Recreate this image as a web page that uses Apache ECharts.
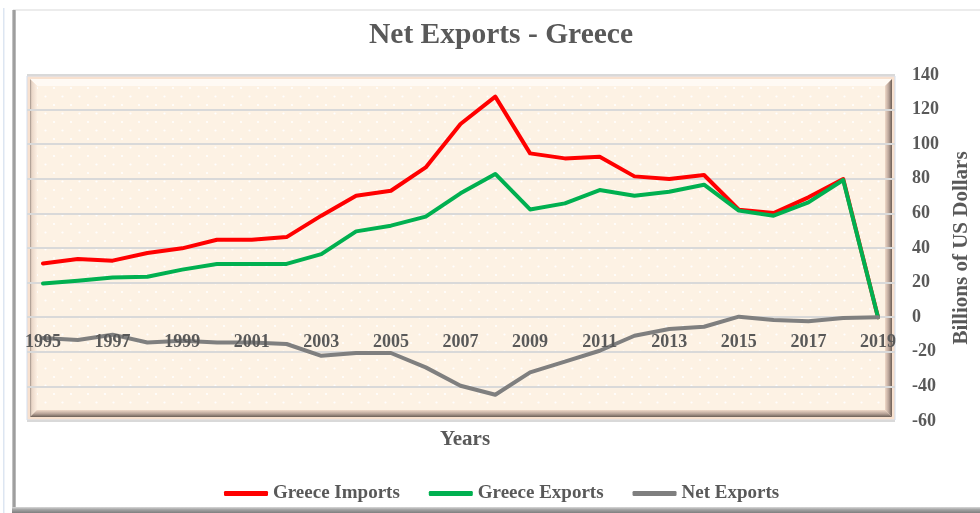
<!DOCTYPE html>
<html>
<head>
<meta charset="utf-8">
<script src="https://cdn.jsdelivr.net/npm/echarts@6/dist/echarts.min.js"></script>
<style>
  html, body { margin: 0; padding: 0; background: #ffffff; }
  #chart { width: 980px; height: 513px; }
</style>
</head>
<body>
<div id="chart"></div>
<script>
// Greece trade, billions of US dollars
const years = ['1995','1996','1997','1998','1999','2000','2001','2002','2003','2004','2005','2006',
               '2007','2008','2009','2010','2011','2012','2013','2014','2015','2016','2017','2018','2019'];
const greeceImports = [31.1, 33.6, 32.7, 37.1, 39.8, 44.8, 44.8, 46.3, 58.7, 70.2, 73.1, 86.6,
                       111.7, 127.5, 94.7, 91.8, 92.8, 81.4, 79.9, 82.2, 62.1, 60.2, 69.3, 79.9, 0];
const greeceExports = [19.5, 21.1, 23.0, 23.4, 27.5, 30.8, 30.8, 30.8, 36.5, 49.6, 52.9, 58.1,
                       71.6, 82.8, 62.3, 65.8, 73.5, 70.2, 72.5, 76.6, 61.6, 58.7, 66.4, 79.3, 0];
const netExports = [-12.0, -13.2, -10.1, -14.6, -13.6, -14.6, -14.6, -15.5, -22.3, -20.7, -20.7, -29.0,
                    -39.6, -44.8, -31.9, -25.7, -19.4, -10.7, -6.8, -5.5, 0.3, -1.6, -2.4, -0.5, 0];
const yMin = -60, yMax = 140, yStep = 20;

const FONT = '"Liberation Serif", "Times New Roman", serif';
const TEXT = '#595959';

const W = 980, H = 513;
const GRID_TOP = 75, GRID_BOTTOM = 92;
// the year labels sit just under the zero line
const zeroOffset = -((0 - yMin) / (yMax - yMin)) * (H - GRID_TOP - GRID_BOTTOM);

// small dotted texture for the plot face
function dotTile() {
  const c = document.createElement('canvas');
  c.width = 17; c.height = 17;
  const g = c.getContext('2d');
  g.fillStyle = 'rgba(255,255,255,0.95)';
  [[3, 3], [11.5, 11.5]].forEach(p => { g.beginPath(); g.arc(p[0], p[1], 1.1, 0, Math.PI * 2); g.fill(); });
  return c;
}

const chart = echarts.init(document.getElementById('chart'), null, { renderer: 'canvas' });

const grad = (x2, y2, stops) => ({
  type: 'linear', x: 0, y: 0, x2: x2, y2: y2,
  colorStops: stops.map(s => ({ offset: s[0], color: s[1] }))
});

chart.setOption({
  animation: false,
  backgroundColor: '#ffffff',
  title: [
    { text: 'Net Exports - Greece', left: 364, top: 15,
      textStyle: { fontFamily: FONT, fontSize: 29.5, fontWeight: 'bold', color: TEXT } },
    { text: 'Years', left: 460, top: 424, textAlign: 'center',
      textStyle: { fontFamily: FONT, fontSize: 21, fontWeight: 'bold', color: TEXT } }
  ],
  legend: {
    left: 219, top: 479, itemGap: 29, itemWidth: 44, itemHeight: 5, icon: 'roundRect',
    itemStyle: { borderWidth: 0 },
    textStyle: { fontFamily: FONT, fontSize: 19, fontWeight: 'bold', color: TEXT },
    data: ['Greece Imports', 'Greece Exports', 'Net Exports']
  },
  graphic: [
    // outer chart border
    { type: 'rect', z: -20, silent: true, shape: { x: 3, y: 8, width: 1.5, height: 505 }, style: { fill: '#dde6f2' } },
    { type: 'rect', z: -20, silent: true, shape: { x: 13, y: 9, width: 967, height: 2 }, style: { fill: '#ececec' } },
    { type: 'rect', z: -20, silent: true, shape: { x: 12, y: 10, width: 4, height: 500 },
      style: { fill: grad(1, 0, [[0, '#d4d4d4'], [0.5, '#8f8f8f'], [1, '#c8c8c8']]) } },
    { type: 'rect', z: -20, silent: true, shape: { x: 12, y: 507, width: 968, height: 6 },
      style: { fill: grad(0, 1, [[0, '#d9d9d9'], [0.4, '#a6a6a6'], [1, '#7f7f7f']]) } },
    // plot frame
    { type: 'rect', z: -20, silent: true, shape: { x: 27, y: 76, width: 868, height: 344 },
      style: { fill: '#f8e1cf', stroke: '#d3deee', lineWidth: 1 } },
    { type: 'polygon', z: -19, silent: true, shape: { points: [[30, 79], [892, 79], [885, 86], [37, 86]] },
      style: { fill: '#fffaf4' } },
    { type: 'polygon', z: -19, silent: true, shape: { points: [[30, 79], [37, 86], [37, 410], [30, 417]] },
      style: { fill: grad(1, 0, [[0, '#9d8f86'], [0.25, '#e9d6c7'], [1, '#fcefe2']]) } },
    { type: 'polygon', z: -19, silent: true, shape: { points: [[892, 79], [892, 417], [885, 410], [885, 86]] },
      style: { fill: grad(1, 0, [[0, '#f0d9c8'], [0.55, '#b6a196'], [1, '#6c5f57']]) } },
    { type: 'polygon', z: -19, silent: true, shape: { points: [[30, 417], [892, 417], [885, 410], [37, 410]] },
      style: { fill: grad(0, 1, [[0, '#f0d9c8'], [0.55, '#b6a196'], [1, '#6c5f57']]) } },
    { type: 'rect', z: -18, silent: true, shape: { x: 37, y: 86, width: 848, height: 324 },
      style: { fill: '#fdf2e4' } },
    { type: 'rect', z: -17, silent: true, shape: { x: 37, y: 86, width: 848, height: 324 },
      style: { fill: { image: dotTile(), repeat: 'repeat' } } }
  ],
  grid: [
    { left: 27, right: 85, top: GRID_TOP, bottom: GRID_BOTTOM },
    { left: 43, right: 102, top: GRID_TOP, bottom: GRID_BOTTOM }
  ],
  xAxis: [
    { gridIndex: 0, type: 'value', show: false, min: 0, max: 1, axisLine: { onZero: false } },
    { gridIndex: 1, type: 'category', data: years, boundaryGap: false, z: 5,
      position: 'bottom', offset: zeroOffset,
      axisLine: { show: false, onZero: false },
      axisTick: { show: false },
      axisLabel: { interval: 1, margin: 16, fontFamily: FONT, fontSize: 18, fontWeight: 'bold', color: TEXT },
      splitLine: { show: false } }
  ],
  yAxis: [
    { gridIndex: 0, type: 'value', position: 'right', min: yMin, max: yMax, interval: yStep,
      name: 'Billions of US Dollars', nameLocation: 'middle', nameRotate: 90, nameGap: 56,
      nameTextStyle: { fontFamily: FONT, fontSize: 21, fontWeight: 'bold', color: TEXT },
      axisLine: { show: false, onZero: false }, axisTick: { show: false },
      axisLabel: { margin: 17, fontFamily: FONT, fontSize: 18, fontWeight: 'bold', color: TEXT },
      splitLine: { show: true, lineStyle: { color: '#d9d9d9', width: 2 } } },
    { gridIndex: 1, type: 'value', min: yMin, max: yMax, interval: yStep,
      axisLine: { show: false }, axisTick: { show: false }, axisLabel: { show: false },
      splitLine: { show: false } }
  ],
  series: [
    { name: 'Greece Imports', type: 'line', xAxisIndex: 1, yAxisIndex: 1, data: greeceImports,
      symbol: 'none', color: '#ff0000', lineStyle: { width: 4, cap: 'round', join: 'round' } },
    { name: 'Greece Exports', type: 'line', xAxisIndex: 1, yAxisIndex: 1, data: greeceExports,
      symbol: 'none', color: '#00b050', lineStyle: { width: 4, cap: 'round', join: 'round' } },
    { name: 'Net Exports', type: 'line', xAxisIndex: 1, yAxisIndex: 1, data: netExports,
      symbol: 'none', color: '#7f7f7f', lineStyle: { width: 4, cap: 'round', join: 'round' } }
  ]
});
</script>
</body>
</html>
